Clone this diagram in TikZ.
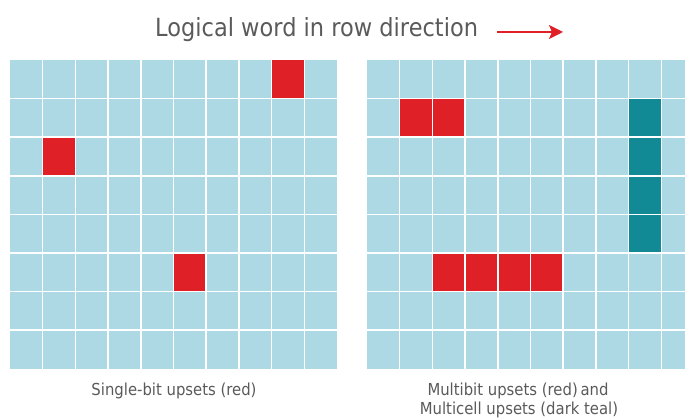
\documentclass[tikz,border=0pt]{standalone}
\usepackage{fontspec}
\setmainfont[FakeStretch=0.9]{DejaVu Sans}
\usetikzlibrary{arrows.meta}
\definecolor{cellblue}{HTML}{ADD9E5}
\definecolor{upred}{HTML}{DF2127}
\definecolor{upteal}{HTML}{128A96}
\definecolor{txtgray}{HTML}{5A5A5A}
\tikzset{
  gridline/.style={white, line width=1.5pt},
  caption/.style={text=txtgray, font=\fontsize{16.5}{20}\selectfont, inner sep=0pt, anchor=base},
}
\begin{document}
\begin{tikzpicture}[x=1pt,y=-1pt]
\useasboundingbox (0,0) rectangle (685,419);
\def\cw{32.7}
\def\ch{38.6}
% left grid
\begin{scope}[shift={(10,60)}]
  \fill[cellblue] (0,0) rectangle (10*\cw,8*\ch);
  \foreach \c/\r in {8/0,1/2,5/5}
    \fill[upred] (\c*\cw,\r*\ch) rectangle ++(\cw,\ch);
  \foreach \i in {1,...,9} \draw[gridline] (\i*\cw,0) -- (\i*\cw,8*\ch);
  \foreach \j in {1,...,7} \draw[gridline] (0,\j*\ch) -- (10*\cw,\j*\ch);
\end{scope}
% right grid (cropped at page edge)
\begin{scope}
  \clip (0,0) rectangle (685,419);
  \begin{scope}[shift={(367,60)}]
    \fill[cellblue] (0,0) rectangle (10*\cw,8*\ch);
    \foreach \c/\r in {1/1,2/1,2/5,3/5,4/5,5/5}
      \fill[upred] (\c*\cw,\r*\ch) rectangle ++(\cw,\ch);
    \foreach \r in {1,2,3,4}
      \fill[upteal] (8*\cw,\r*\ch) rectangle ++(\cw,\ch);
    \foreach \i in {1,...,9} \draw[gridline] (\i*\cw,0) -- (\i*\cw,8*\ch);
    \foreach \j in {1,...,7} \draw[gridline] (0,\j*\ch) -- (10*\cw,\j*\ch);
  \end{scope}
\end{scope}
% title and arrow
\node[text=txtgray, font=\fontsize{25}{30}\selectfont, anchor=base west, inner sep=0pt] (title) at (155,36.5) {Logical word in row direction};
\coordinate (arrS) at (497,32);
\coordinate (arrE) at (563,32);
\draw[upred, line width=1.8pt, -{Stealth[length=14pt,width=14pt,inset=3pt]}] (arrS) -- (arrE);
% captions
\node[caption] (capL) at (174,395) {Single-bit upsets (red)};
\node[caption] (capR1) at (518,395.5) {Multibit upsets (red)\,and};
\node[caption] (capR2) at (519,414.5) {Multicell upsets (dark teal)};
\end{tikzpicture}
\end{document}
